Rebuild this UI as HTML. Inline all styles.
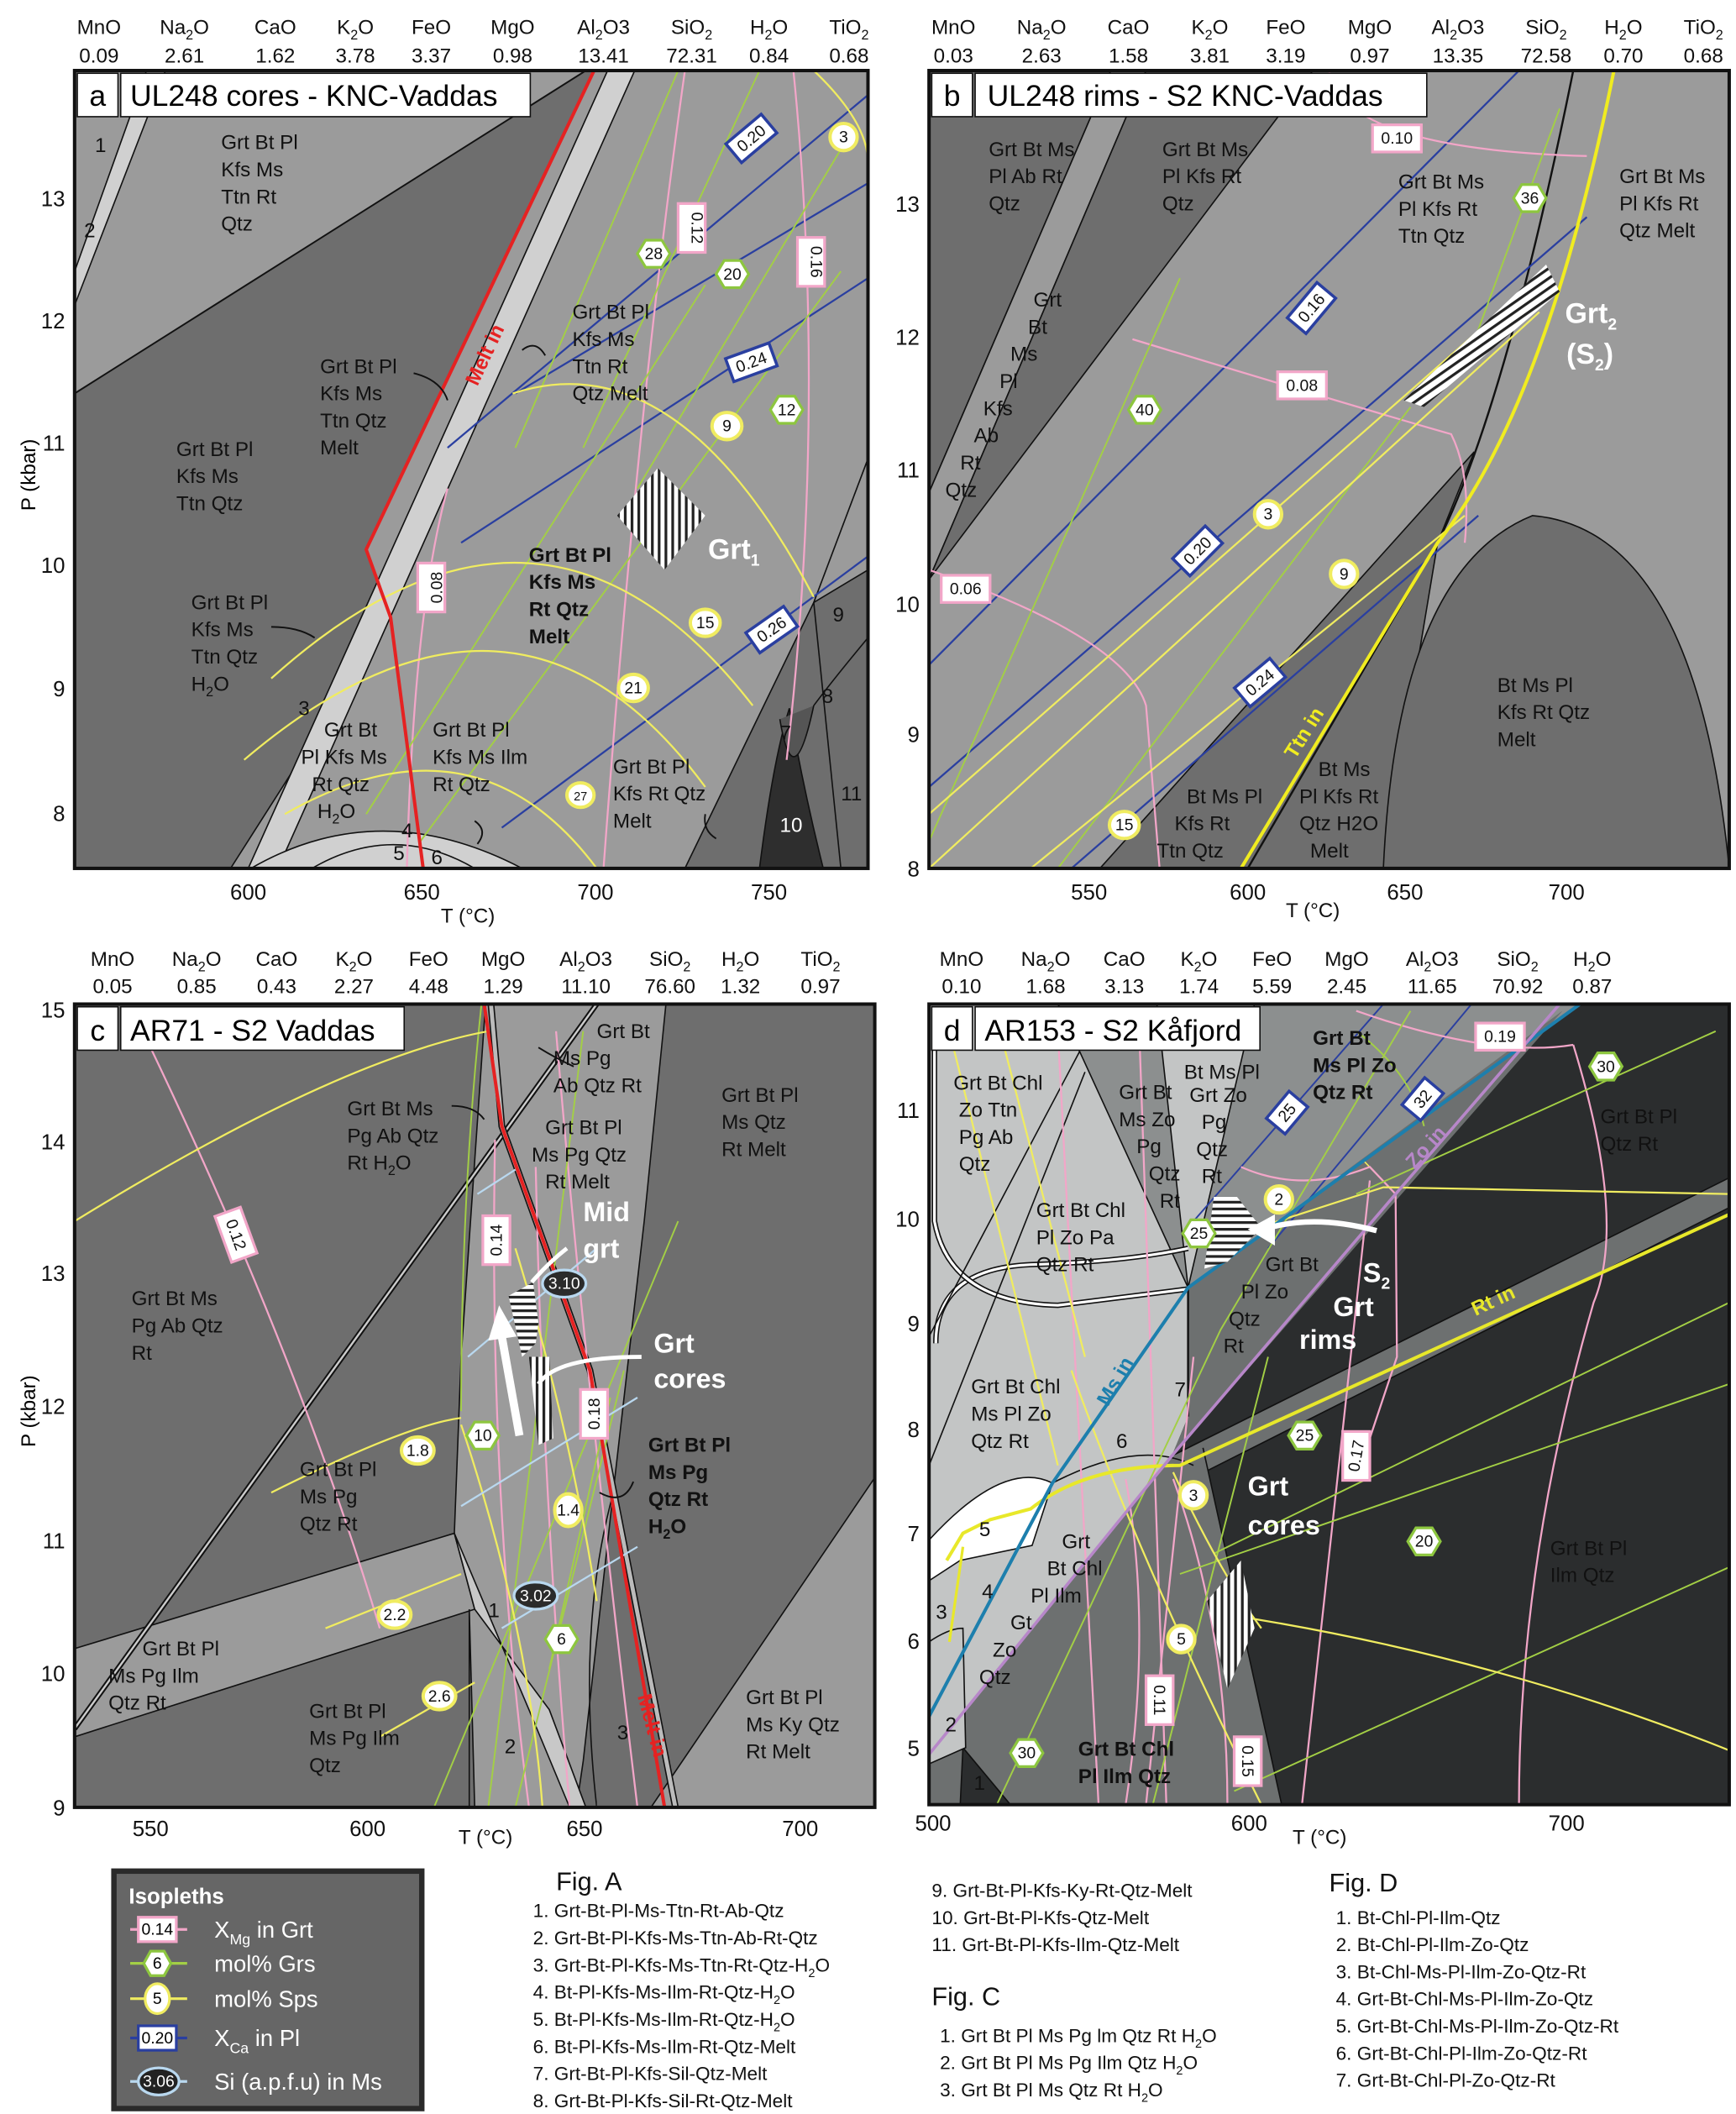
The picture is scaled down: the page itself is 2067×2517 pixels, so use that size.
<!DOCTYPE html>
<html><head><meta charset="utf-8"><style>
html,body{margin:0;padding:0;background:#fff}
svg{display:block}
text{font-family:"Liberation Sans",sans-serif}
</style></head><body>
<svg width="2067" height="2517" viewBox="0 0 1280 1558" preserveAspectRatio="none" xmlns="http://www.w3.org/2000/svg">
<defs>
<pattern id="hv" width="5" height="5" patternUnits="userSpaceOnUse"><rect width="5" height="5" fill="#fff"/><rect width="2" height="5" fill="#222"/></pattern>
<pattern id="hh" width="6" height="6" patternUnits="userSpaceOnUse" patternTransform="rotate(-35)"><rect width="6" height="6" fill="#fff"/><rect width="6" height="2" fill="#222"/></pattern>
<pattern id="hz" width="5" height="5" patternUnits="userSpaceOnUse"><rect width="5" height="5" fill="#fff"/><rect width="5" height="2" fill="#222"/></pattern>
<clipPath id="ca"><rect x="55" y="52" width="585" height="588"/></clipPath>
<clipPath id="cb"><rect x="685" y="52" width="590" height="588"/></clipPath>
<clipPath id="cc"><rect x="55" y="740" width="590" height="592"/></clipPath>
<clipPath id="cd"><rect x="685" y="740" width="590" height="590"/></clipPath>
</defs>
<rect width="1280" height="1558" fill="#fff"/>

<!-- ================= HEADERS ================= -->
<g font-size="15" fill="#111" text-anchor="middle">
<text x="73" y="25">MnO</text><text x="73" y="46">0.09</text>
<text x="136" y="25">Na<tspan font-size="10" dy="4">2</tspan><tspan dy="-4">O</tspan></text><text x="136" y="46">2.61</text>
<text x="203" y="25">CaO</text><text x="203" y="46">1.62</text>
<text x="262" y="25">K<tspan font-size="10" dy="4">2</tspan><tspan dy="-4">O</tspan></text><text x="262" y="46">3.78</text>
<text x="318" y="25">FeO</text><text x="318" y="46">3.37</text>
<text x="378" y="25">MgO</text><text x="378" y="46">0.98</text>
<text x="445" y="25">Al<tspan font-size="10" dy="4">2</tspan><tspan dy="-4">O3</tspan></text><text x="445" y="46">13.41</text>
<text x="510" y="25">SiO<tspan font-size="10" dy="4">2</tspan></text><text x="510" y="46">72.31</text>
<text x="567" y="25">H<tspan font-size="10" dy="4">2</tspan><tspan dy="-4">O</tspan></text><text x="567" y="46">0.84</text>
<text x="626" y="25">TiO<tspan font-size="10" dy="4">2</tspan></text><text x="626" y="46">0.68</text>

<text x="703" y="25">MnO</text><text x="703" y="46">0.03</text>
<text x="768" y="25">Na<tspan font-size="10" dy="4">2</tspan><tspan dy="-4">O</tspan></text><text x="768" y="46">2.63</text>
<text x="832" y="25">CaO</text><text x="832" y="46">1.58</text>
<text x="892" y="25">K<tspan font-size="10" dy="4">2</tspan><tspan dy="-4">O</tspan></text><text x="892" y="46">3.81</text>
<text x="948" y="25">FeO</text><text x="948" y="46">3.19</text>
<text x="1010" y="25">MgO</text><text x="1010" y="46">0.97</text>
<text x="1075" y="25">Al<tspan font-size="10" dy="4">2</tspan><tspan dy="-4">O3</tspan></text><text x="1075" y="46">13.35</text>
<text x="1140" y="25">SiO<tspan font-size="10" dy="4">2</tspan></text><text x="1140" y="46">72.58</text>
<text x="1197" y="25">H<tspan font-size="10" dy="4">2</tspan><tspan dy="-4">O</tspan></text><text x="1197" y="46">0.70</text>
<text x="1256" y="25">TiO<tspan font-size="10" dy="4">2</tspan></text><text x="1256" y="46">0.68</text>

<text x="83" y="712">MnO</text><text x="83" y="732">0.05</text>
<text x="145" y="712">Na<tspan font-size="10" dy="4">2</tspan><tspan dy="-4">O</tspan></text><text x="145" y="732">0.85</text>
<text x="204" y="712">CaO</text><text x="204" y="732">0.43</text>
<text x="261" y="712">K<tspan font-size="10" dy="4">2</tspan><tspan dy="-4">O</tspan></text><text x="261" y="732">2.27</text>
<text x="316" y="712">FeO</text><text x="316" y="732">4.48</text>
<text x="371" y="712">MgO</text><text x="371" y="732">1.29</text>
<text x="432" y="712">Al<tspan font-size="10" dy="4">2</tspan><tspan dy="-4">O3</tspan></text><text x="432" y="732">11.10</text>
<text x="494" y="712">SiO<tspan font-size="10" dy="4">2</tspan></text><text x="494" y="732">76.60</text>
<text x="546" y="712">H<tspan font-size="10" dy="4">2</tspan><tspan dy="-4">O</tspan></text><text x="546" y="732">1.32</text>
<text x="605" y="712">TiO<tspan font-size="10" dy="4">2</tspan></text><text x="605" y="732">0.97</text>

<text x="709" y="712">MnO</text><text x="709" y="732">0.10</text>
<text x="771" y="712">Na<tspan font-size="10" dy="4">2</tspan><tspan dy="-4">O</tspan></text><text x="771" y="732">1.68</text>
<text x="829" y="712">CaO</text><text x="829" y="732">3.13</text>
<text x="884" y="712">K<tspan font-size="10" dy="4">2</tspan><tspan dy="-4">O</tspan></text><text x="884" y="732">1.74</text>
<text x="938" y="712">FeO</text><text x="938" y="732">5.59</text>
<text x="993" y="712">MgO</text><text x="993" y="732">2.45</text>
<text x="1056" y="712">Al<tspan font-size="10" dy="4">2</tspan><tspan dy="-4">O3</tspan></text><text x="1056" y="732">11.65</text>
<text x="1119" y="712">SiO<tspan font-size="10" dy="4">2</tspan></text><text x="1119" y="732">70.92</text>
<text x="1174" y="712">H<tspan font-size="10" dy="4">2</tspan><tspan dy="-4">O</tspan></text><text x="1174" y="732">0.87</text>
</g>

<!-- ================= PANEL A ================= -->
<g clip-path="url(#ca)">
<rect x="55" y="52" width="585" height="588" fill="#9b9b9b"/>
<polygon points="55,290 432,52 438,52 270,405 288,455 170,640 55,640" fill="#6e6e6e"/>
<path d="M438,52 L270,405 L288,455 L170,640" fill="none" stroke="#111" stroke-width="1"/>
<polygon points="448,52 468,52 205,640 183,640" fill="#d0d0d0" stroke="#111" stroke-width="1"/>
<polygon points="55,200 108,52 122,52 55,225" fill="#d0d0d0" stroke="#111" stroke-width="1"/>
<path d="M55,290 L432,52" stroke="#111" stroke-width="1.2"/>
<path d="M185,640 Q280,585 385,640 Z" fill="#d0d0d0" stroke="#111"/>
<path d="M230,640 Q290,605 350,640" fill="none" stroke="#111"/>
<polygon points="505,640 600,444 640,420 640,640" fill="#6e6e6e" stroke="#111"/>
<path d="M560,640 Q570,560 582,522 Q592,580 607,640Z" fill="#2e2e2e" stroke="#111"/>
<path d="M575,530 Q585,590 600,520" fill="#555" stroke="#111"/>
<path d="M600,520 Q615,500 640,470" stroke="#111" fill="none"/>
<path d="M600,444 L640,338" stroke="#111" fill="none"/>
<path d="M600,444 L620,640" stroke="#111" fill="none"/>
<g stroke="#2a3fa0" stroke-width="1.4" fill="none">
<path d="M330,330 L640,70"/><path d="M380,290 L640,135"/><path d="M340,400 L640,205"/><path d="M370,610 L640,410"/><path d="M500,52 L640,52"/>
</g>
<g stroke="#f2a6c8" stroke-width="1.4" fill="none">
<path d="M505,52 Q470,300 445,640"/><path d="M585,52 Q610,300 580,560"/><path d="M330,360 Q305,450 300,640"/>
</g>
<g stroke="#a3cf45" stroke-width="1.2" fill="none">
<path d="M380,330 L500,52"/><path d="M430,330 L560,52"/><path d="M470,360 L620,110"/><path d="M270,600 L520,210"/><path d="M310,620 L620,200"/>
</g>
<g stroke="#f0ec60" stroke-width="1.4" fill="none">
<path d="M600,52 Q640,90 640,120"/><path d="M378,290 Q500,250 600,440"/><path d="M200,500 Q400,320 555,520"/><path d="M180,560 Q380,390 520,580"/><path d="M210,600 Q350,520 440,640"/>
</g>
<path d="M438,52 L270,405 L288,455 L312,640" stroke="#e52222" stroke-width="2.5" fill="none"/>
<polygon points="455,380 485,345 520,380 490,420" fill="url(#hv)"/>
</g>
<rect x="55" y="52" width="585" height="588" fill="none" stroke="#111" stroke-width="2.5"/>
<rect x="57" y="54" width="30" height="32" fill="#fff" stroke="#111"/><text x="72" y="78" font-size="22" text-anchor="middle">a</text>
<rect x="89" y="54" width="302" height="32" fill="#fff" stroke="#111"/><text x="96" y="78" font-size="22">UL248 cores - KNC-Vaddas</text>
<g font-size="15" fill="#111">
<text x="70" y="112">1</text><text x="62" y="175">2</text>
<text x="163" y="110">Grt Bt Pl</text><text x="163" y="130">Kfs Ms</text><text x="163" y="150">Ttn Rt</text><text x="163" y="170">Qtz</text>
<text x="130" y="336">Grt Bt Pl</text><text x="130" y="356">Kfs Ms</text><text x="130" y="376">Ttn Qtz</text>
<text x="236" y="275">Grt Bt Pl</text><text x="236" y="295">Kfs Ms</text><text x="236" y="315">Ttn Qtz</text><text x="236" y="335">Melt</text>
<text x="422" y="235">Grt Bt Pl</text><text x="422" y="255">Kfs Ms</text><text x="422" y="275">Ttn Rt</text><text x="422" y="295">Qtz Melt</text>
<text x="141" y="449">Grt Bt Pl</text><text x="141" y="469">Kfs Ms</text><text x="141" y="489">Ttn Qtz</text><text x="141" y="509">H<tspan font-size="10" dy="4">2</tspan><tspan dy="-4">O</tspan></text>
<text x="220" y="527">3</text>
<text x="239" y="543">Grt Bt</text><text x="222" y="563">Pl Kfs Ms</text><text x="230" y="583">Rt Qtz</text><text x="234" y="603">H<tspan font-size="10" dy="4">2</tspan><tspan dy="-4">O</tspan></text>
<text x="319" y="543">Grt Bt Pl</text><text x="319" y="563">Kfs Ms Ilm</text><text x="319" y="583">Rt Qtz</text>
<text x="452" y="570">Grt Bt Pl</text><text x="452" y="590">Kfs Rt Qtz</text><text x="452" y="610">Melt</text>
<text x="296" y="617">4</text><text x="290" y="634">5</text><text x="318" y="637">6</text>
<text x="614" y="458">9</text><text x="606" y="518">8</text><text x="575" y="545">7</text><text x="620" y="590">11</text><text x="575" y="613" fill="#fff">10</text>
</g>
<g stroke="#111" stroke-width="1.2" fill="none">
<path d="M200,462 Q220,462 232,470"/><path d="M305,275 Q325,280 330,295"/><path d="M402,262 Q395,250 385,258"/><path d="M520,600 Q518,612 528,618"/><path d="M350,605 Q360,612 352,622"/>
</g>
<g font-size="15" font-weight="bold" fill="#111">
<text x="390" y="414">Grt Bt Pl</text><text x="390" y="434">Kfs Ms</text><text x="390" y="454">Rt Qtz</text><text x="390" y="474">Melt</text>
</g>
<text x="522" y="412" font-size="21" font-weight="bold" fill="#fff">Grt<tspan font-size="12" dy="5">1</tspan></text>
<text x="352" y="285" font-size="15" font-weight="bold" fill="#e52222" transform="rotate(-65 352 285)">Melt in</text>

<!-- ================= PANEL B ================= -->
<g clip-path="url(#cb)">
<rect x="685" y="52" width="590" height="588" fill="#9b9b9b"/>
<polygon points="685,52 819,52 685,363" fill="#6e6e6e" stroke="#111"/>
<polygon points="819,52 845,52 685,427 685,363" fill="#9b9b9b" stroke="#111"/>
<polygon points="845,52 968,52 685,427" fill="#6e6e6e" stroke="#111"/>
<polygon points="811,640 1087,333 1060,400 1020,640" fill="#6e6e6e" stroke="#111"/>
<path d="M1020,640 Q1030,420 1130,380 Q1250,390 1275,640 Z" fill="#6e6e6e" stroke="#111"/>
<path d="M1160,52 Q1110,300 1060,400 L920,640" fill="none" stroke="#111" stroke-width="1.5"/>
<g stroke="#2a3fa0" stroke-width="1.4" fill="none"><path d="M685,490 L1120,52"/><path d="M685,580 L1170,160"/><path d="M790,640 L1090,380"/></g>
<g stroke="#f2a6c8" stroke-width="1.4" fill="none"><path d="M980,52 Q990,110 1170,115"/><path d="M835,250 Q1000,300 1070,320 Q1085,350 1080,400"/><path d="M685,420 Q830,470 845,520 Q850,580 855,640"/></g>
<g stroke="#a3cf45" stroke-width="1.2" fill="none"><path d="M685,620 L870,205"/><path d="M780,640 L1040,300"/><path d="M1080,270 L1150,80"/></g>
<g stroke="#f0ec60" stroke-width="1.4" fill="none"><path d="M685,600 L1140,200"/><path d="M685,640 L1135,230"/><path d="M760,640 L1080,380"/></g>
<path d="M1190,52 Q1140,300 1060,400 L915,640" fill="none" stroke="#f0ec20" stroke-width="2.5"/>
<polygon points="1035,295 1140,195 1150,215 1050,300" fill="url(#hh)"/>
</g>
<rect x="685" y="52" width="590" height="588" fill="none" stroke="#111" stroke-width="2.5"/>
<rect x="687" y="54" width="30" height="32" fill="#fff" stroke="#111"/><text x="702" y="78" font-size="22" text-anchor="middle">b</text>
<rect x="719" y="54" width="333" height="32" fill="#fff" stroke="#111"/><text x="728" y="78" font-size="22">UL248 rims - S2 KNC-Vaddas</text>
<g font-size="15" fill="#111">
<text x="729" y="115">Grt Bt Ms</text><text x="729" y="135">Pl Ab Rt</text><text x="729" y="155">Qtz</text>
<text x="857" y="115">Grt Bt Ms</text><text x="857" y="135">Pl Kfs Rt</text><text x="857" y="155">Qtz</text>
<text x="1031" y="139">Grt Bt Ms</text><text x="1031" y="159">Pl Kfs Rt</text><text x="1031" y="179">Ttn Qtz</text>
<text x="1194" y="135">Grt Bt Ms</text><text x="1194" y="155">Pl Kfs Rt</text><text x="1194" y="175">Qtz Melt</text>
<text x="762" y="226">Grt</text><text x="758" y="246">Bt</text><text x="745" y="266">Ms</text><text x="737" y="286">Pl</text><text x="725" y="306">Kfs</text><text x="718" y="326">Ab</text><text x="708" y="346">Rt</text><text x="697" y="366">Qtz</text>
<text x="1104" y="510">Bt Ms Pl</text><text x="1104" y="530">Kfs Rt Qtz</text><text x="1104" y="550">Melt</text>
<text x="875" y="592">Bt Ms Pl</text><text x="866" y="612">Kfs Rt</text><text x="853" y="632">Ttn Qtz</text>
<text x="972" y="572">Bt Ms</text><text x="958" y="592">Pl Kfs Rt</text><text x="958" y="612">Qtz H2O</text><text x="966" y="632">Melt</text>
</g>
<text x="1154" y="238" font-size="21" font-weight="bold" fill="#fff">Grt<tspan font-size="12" dy="5">2</tspan></text>
<text x="1155" y="268" font-size="21" font-weight="bold" fill="#fff">(S<tspan font-size="12" dy="5">2</tspan><tspan dy="-5">)</tspan></text>
<text x="955" y="560" font-size="15" font-weight="bold" fill="#f0ec20" transform="rotate(-58 955 560)">Ttn in</text>

<!-- ================= PANEL C ================= -->
<g clip-path="url(#cc)">
<rect x="55" y="740" width="590" height="592" fill="#6e6e6e"/>
<polygon points="358,740 491,740 475,900 452,1101 430,1298 425,1332 350,1332 346,1186 335,1130 340,1000" fill="#9b9b9b" stroke="#111"/>
<path d="M452,1101 Q425,1200 440,1332" fill="none" stroke="#111"/>
<polygon points="452,1101 440,1332 490,1332" fill="#6e6e6e"/>
<polygon points="480,1332 645,1089 645,1332" fill="#9b9b9b" stroke="#111"/>
<polygon points="55,1215 335,1130 350,1186 55,1280" fill="#9b9b9b" stroke="#111"/>
<polygon points="335,1130 350,1186 405,1260 432,1332 420,1332 390,1260" fill="#c8c8c8" stroke="#111"/>
<path d="M346,1186 L346,1332" stroke="#111" fill="none"/>
<path d="M55,1274 L440,740" stroke="#111" stroke-width="4" fill="none"/>
<path d="M55,1274 L440,740" stroke="#ccc" stroke-width="1.5" fill="none"/>
<path d="M362,740 L370,830 L435,1010 L498,1332" stroke="#111" stroke-width="5" fill="none"/>
<path d="M362,740 L370,830 L435,1010 L498,1332" stroke="#bbb" stroke-width="3" fill="none"/>
<g stroke="#f2a6c8" stroke-width="1.4" fill="none"><path d="M110,770 Q220,1000 280,1200"/><path d="M365,840 Q360,1100 390,1332"/><path d="M395,860 Q400,1100 420,1332"/><path d="M410,760 Q430,1000 470,1332"/></g>
<g stroke="#a3cf45" stroke-width="1.2" fill="none"><path d="M360,1332 L430,760"/><path d="M380,1332 L460,1010"/><path d="M405,1230 L450,1030"/><path d="M320,1332 L500,900"/><path d="M340,1040 Q340,880 355,740"/></g>
<g stroke="#f0ec60" stroke-width="1.4" fill="none"><path d="M55,900 Q250,780 360,760"/><path d="M200,1100 Q300,1050 340,1045"/><path d="M240,1200 L340,1160"/><path d="M280,1280 L350,1240"/><path d="M380,920 Q420,1050 440,1180"/><path d="M340,1050 Q390,1200 400,1332"/></g>
<g stroke="#b9d8ef" stroke-width="1.4" fill="none"><path d="M340,1110 L470,1030"/><path d="M370,1200 L470,1140"/><path d="M345,1000 L440,920"/><path d="M352,880 L380,862"/></g>
<path d="M357,740 L370,830 L435,1010 L490,1332" stroke="#e52222" stroke-width="2.5" fill="none"/>
<polygon points="375,955 393,945 397,975 395,990 385,1000" fill="url(#hz)"/>
<polygon points="390,1000 405,1000 408,1060 397,1065" fill="url(#hv)"/>
<path d="M383,1058 L370,985" stroke="#fff" stroke-width="6"/><polygon points="360,988 368,962 381,985" fill="#fff"/>
</g>
<rect x="55" y="740" width="590" height="592" fill="none" stroke="#111" stroke-width="2.5"/>
<rect x="57" y="742" width="30" height="32" fill="#fff" stroke="#111"/><text x="72" y="767" font-size="22" text-anchor="middle">c</text>
<rect x="89" y="742" width="209" height="32" fill="#fff" stroke="#111"/><text x="96" y="767" font-size="22">AR71 - S2 Vaddas</text>
<g font-size="15" fill="#111">
<text x="440" y="765">Grt Bt</text><text x="408" y="785">Ms Pg</text><text x="408" y="805">Ab Qtz Rt</text>
<text x="256" y="822">Grt Bt Ms</text><text x="256" y="842">Pg Ab Qtz</text><text x="256" y="862">Rt H<tspan font-size="10" dy="4">2</tspan><tspan dy="-4">O</tspan></text>
<text x="402" y="836">Grt Bt Pl</text><text x="392" y="856">Ms Pg Qtz</text><text x="402" y="876">Rt Melt</text>
<text x="532" y="812">Grt Bt Pl</text><text x="532" y="832">Ms Qtz</text><text x="532" y="852">Rt Melt</text>
<text x="97" y="962">Grt Bt Ms</text><text x="97" y="982">Pg Ab Qtz</text><text x="97" y="1002">Rt</text>
<text x="221" y="1088">Grt Bt Pl</text><text x="221" y="1108">Ms Pg</text><text x="221" y="1128">Qtz Rt</text>
<text x="105" y="1220">Grt Bt Pl</text><text x="80" y="1240">Ms Pg Ilm</text><text x="80" y="1260">Qtz Rt</text>
<text x="228" y="1266">Grt Bt Pl</text><text x="228" y="1286">Ms Pg Ilm</text><text x="228" y="1306">Qtz</text>
<text x="550" y="1256">Grt Bt Pl</text><text x="550" y="1276">Ms Ky Qtz</text><text x="550" y="1296">Rt Melt</text>
<text x="360" y="1192">1</text><text x="372" y="1292">2</text><text x="455" y="1282">3</text>
</g>
<g stroke="#111" stroke-width="1.2" fill="none"><path d="M333,815 Q350,815 357,825"/><path d="M423,786 Q410,780 397,772"/><path d="M467,1092 Q460,1110 442,1100"/></g>
<g font-size="15" font-weight="bold" fill="#111"><text x="478" y="1070">Grt Bt Pl</text><text x="478" y="1090">Ms Pg</text><text x="478" y="1110">Qtz Rt</text><text x="478" y="1130">H<tspan font-size="10" dy="4">2</tspan><tspan dy="-4">O</tspan></text></g>
<g font-size="20" font-weight="bold" fill="#fff"><text x="430" y="900">Mid</text><text x="430" y="927">grt</text><text x="482" y="997">Grt</text><text x="482" y="1023">cores</text></g>
<path d="M392,945 Q405,930 418,920" stroke="#fff" stroke-width="3" fill="none"/>
<path d="M397,1020 Q410,1000 473,1000" stroke="#fff" stroke-width="3" fill="none"/>
<text x="470" y="1250" font-size="15" font-weight="bold" fill="#e52222" transform="rotate(75 470 1250)">Melt in</text>

<!-- ================= PANEL D ================= -->
<g clip-path="url(#cd)">
<rect x="685" y="740" width="590" height="590" fill="#2b2d2e"/>
<polygon points="685,740 925,740 876,949 876,1044 864,1073 685,1292" fill="#c3c5c5"/>
<polygon points="780,740 853,740 876,949" fill="#8c8f8f" stroke="#111"/>
<polygon points="925,740 1165,740 876,949" fill="#8c8f8f" stroke="#111"/>
<polygon points="876,949 1152,745 864,1073 876,1044" fill="#6d7070"/>
<polygon points="1006,856 1152,745 1029,880 1015,885" fill="#6d7070"/>
<polygon points="864,1073 1275,868 1275,890 882,1088" fill="#6d7070" stroke="#111"/>
<polygon points="864,1073 887,1067 905,1150 945,1330 685,1330 685,1292" fill="#6d7070"/>
<path d="M887,1067 Q905,1150 945,1330" stroke="#111" fill="none"/>
<polygon points="710,1288 745,1330 708,1330" fill="#2b2d2e" stroke="#111"/>
<path d="M685,1210 Q700,1200 710,1200 L712,1288 L685,1300" fill="#c3c5c5" stroke="#111"/>
<path d="M685,1135 Q740,1075 776,1093 L761,1139 L708,1150 L685,1165 Z" fill="#fff" stroke="#111"/>
<path d="M690,990 Q690,935 760,932 Q830,930 876,920" stroke="#111" stroke-width="4" fill="none"/>
<path d="M690,990 Q690,935 760,932 Q830,930 876,920" stroke="#fff" stroke-width="2" fill="none"/>
<path d="M689,745 L689,900 Q700,960 780,962 L876,950" stroke="#111" stroke-width="4" fill="none"/>
<path d="M689,745 L689,900 Q700,960 780,962 L876,950" stroke="#fff" stroke-width="2" fill="none"/>
<path d="M685,985 L796,775 L780,740" stroke="#111" fill="none"/>
<path d="M685,1080 L800,790" stroke="#111" fill="none"/>
<path d="M876,949 L876,1044" stroke="#111" stroke-width="1.5" fill="none"/>
<path d="M1006,856 L1029,880" stroke="#f0ec60" fill="none"/>
<path d="M776,1093 Q840,1060 880,1080" stroke="#111" fill="none"/>
<g stroke="#2a3fa0" stroke-width="1.2" fill="none"><path d="M880,900 L1020,740"/><path d="M935,920 L1085,740"/></g>
<g stroke="#f2a6c8" stroke-width="1.4" fill="none"><path d="M1000,745 Q1100,780 1160,770"/><path d="M1160,770 Q1200,900 1175,960 Q1120,1150 1120,1330"/><path d="M1010,870 Q990,1050 960,1330"/><path d="M880,1000 L845,1330"/><path d="M865,1090 Q905,1200 905,1330"/><path d="M830,1090 Q850,1200 830,1330"/><path d="M840,760 L860,1330"/><path d="M780,760 L810,1330"/><path d="M915,860 Q960,880 1010,860 L1029,880 L1030,1000 L1010,1060"/></g>
<g stroke="#a3cf45" stroke-width="1.2" fill="none"><path d="M1000,880 L1265,760"/><path d="M735,1330 L900,980 L1040,745"/><path d="M870,1160 L1275,1020"/><path d="M895,1145 L1275,960"/><path d="M910,1320 L1275,1155"/><path d="M850,1330 L935,1000"/><path d="M1000,760 Q1040,790 1050,830"/></g>
<g stroke="#f0ec60" stroke-width="1.4" fill="none"><path d="M880,920 L1020,875 L1275,880"/><path d="M905,1190 Q1100,1220 1275,1290"/><path d="M700,760 L780,1080"/><path d="M740,770 L800,1000"/><path d="M790,1010 Q840,1150 930,1330"/><path d="M865,1085 Q900,1160 930,1200"/></g>
<path d="M698,1150 L710,1130 L730,1120 L760,1112 Q800,1080 870,1080 L1275,895" stroke="#e8e82a" stroke-width="2.5" fill="none"/>
<path d="M700,1210 L710,1140" stroke="#e8e82a" stroke-width="2" fill="none"/>
<path d="M685,1265 L776,1093 L876,949 L1165,740" stroke="#1d7fad" stroke-width="2.5" fill="none"/>
<path d="M685,1293 L864,1073 L1029,880 L1150,740" stroke="#b787c9" stroke-width="2.2" fill="none"/>
<polygon points="895,882 912,882 930,905 905,930 888,935" fill="url(#hz)"/>
<polygon points="890,1180 915,1150 925,1200 905,1245" fill="url(#hv)"/>
<path d="M1015,907 Q970,895 935,905" stroke="#fff" stroke-width="4" fill="none"/><polygon points="920,906 940,895 940,918" fill="#fff"/>
</g>
<rect x="685" y="740" width="590" height="590" fill="none" stroke="#111" stroke-width="2.5"/>
<rect x="687" y="742" width="30" height="32" fill="#fff" stroke="#111"/><text x="702" y="767" font-size="22" text-anchor="middle">d</text>
<rect x="719" y="742" width="210" height="32" fill="#fff" stroke="#111"/><text x="726" y="767" font-size="22">AR153 - S2 Kåfjord</text>
<g font-size="15" fill="#111">
<text x="703" y="803">Grt Bt Chl</text><text x="707" y="823">Zo Ttn</text><text x="707" y="843">Pg Ab</text><text x="707" y="863">Qtz</text>
<text x="825" y="810">Grt Bt</text><text x="825" y="830">Ms Zo</text><text x="838" y="850">Pg</text><text x="847" y="870">Qtz</text><text x="855" y="890">Rt</text>
<text x="873" y="795">Bt Ms Pl</text><text x="877" y="812">Grt Zo</text><text x="886" y="832">Pg</text><text x="882" y="852">Qtz</text><text x="886" y="872">Rt</text>
<text x="764" y="897">Grt Bt Chl</text><text x="764" y="917">Pl Zo Pa</text><text x="764" y="937">Qtz Rt</text>
<text x="933" y="937">Grt Bt</text><text x="915" y="957">Pl Zo</text><text x="906" y="977">Qtz</text><text x="902" y="997">Rt</text>
<text x="716" y="1027">Grt Bt Chl</text><text x="716" y="1047">Ms Pl Zo</text><text x="716" y="1067">Qtz Rt</text>
<text x="1180" y="828">Grt Bt Pl</text><text x="1180" y="848">Qtz Rt</text>
<text x="1143" y="1146">Grt Bt Pl</text><text x="1143" y="1166">Ilm Qtz</text>
<text x="783" y="1141">Grt</text><text x="772" y="1161">Bt Chl</text><text x="760" y="1181">Pl Ilm</text><text x="745" y="1201">Gt</text><text x="732" y="1221">Zo</text><text x="722" y="1241">Qtz</text>
<text x="722" y="1132">5</text><text x="724" y="1178">4</text><text x="690" y="1193">3</text><text x="697" y="1276">2</text><text x="718" y="1319">1</text><text x="823" y="1067">6</text><text x="866" y="1029">7</text>
</g>
<g font-size="15" font-weight="bold" fill="#111"><text x="968" y="770">Grt Bt</text><text x="968" y="790">Ms Pl Zo</text><text x="968" y="810">Qtz Rt</text>
<text x="795" y="1294">Grt Bt Chl</text><text x="795" y="1314">Pl Ilm Qtz</text></g>
<g font-size="20" font-weight="bold" fill="#fff"><text x="1005" y="945">S<tspan font-size="12" dy="5">2</tspan></text><text x="983" y="970">Grt</text><text x="958" y="994">rims</text>
<text x="920" y="1102">Grt</text><text x="920" y="1131">cores</text></g>
<text x="817" y="1037" font-size="15" font-weight="bold" fill="#1d7fad" transform="rotate(-60 817 1037)">Ms in</text>
<text x="1043" y="862" font-size="15" font-weight="bold" fill="#b787c9" transform="rotate(-48 1043 862)">Zo in</text>
<text x="1088" y="970" font-size="15" font-weight="bold" fill="#e8e82a" transform="rotate(-25 1088 970)">Rt in</text>

<!-- ================= LABEL MARKERS ================= -->
<g font-size="12" text-anchor="middle" fill="#111">
<g fill="#fff" stroke="#f2a6c8" stroke-width="2">
<rect x="500" y="150" width="20" height="36"/><rect x="588" y="175" width="20" height="36"/><rect x="308" y="415" width="20" height="36"/>
<rect x="1012" y="92" width="36" height="20"/><rect x="942" y="274" width="36" height="20"/><rect x="694" y="424" width="36" height="20"/>
<rect x="164" y="892" width="20" height="36" transform="rotate(-20 174 910)"/><rect x="356" y="896" width="20" height="36"/><rect x="428" y="1024" width="20" height="36"/>
<rect x="1088" y="754" width="36" height="20"/><rect x="990" y="1055" width="20" height="36"/><rect x="845" y="1235" width="20" height="36"/><rect x="910" y="1280" width="20" height="36"/>
</g>
<text transform="translate(514 168) rotate(90)" dy="4">0.12</text><text transform="translate(602 193) rotate(90)" dy="4">0.16</text><text transform="translate(322 433) rotate(-90)" dy="4">0.08</text>
<text x="1030" y="106">0.10</text><text x="960" y="288">0.08</text><text x="712" y="438">0.06</text>
<text transform="translate(174 910) rotate(70)" dy="4">0.12</text><text transform="translate(366 914) rotate(-90)" dy="4">0.14</text><text transform="translate(438 1042) rotate(-90)" dy="4">0.18</text>
<text x="1106" y="768">0.19</text><text transform="translate(1000 1073) rotate(-80)" dy="4">0.17</text><text transform="translate(855 1253) rotate(90)" dy="4">0.11</text><text transform="translate(920 1298) rotate(90)" dy="4">0.15</text>
<g fill="#fff" stroke="#2a3fa0" stroke-width="2.2">
<rect x="537" y="93" width="34" height="18" transform="rotate(-40 554 102)"/><rect x="537" y="258" width="34" height="18" transform="rotate(-20 554 267)"/><rect x="552" y="455" width="34" height="18" transform="rotate(-35 569 464)"/>
<rect x="950" y="218" width="34" height="18" transform="rotate(-50 967 227)"/><rect x="866" y="397" width="34" height="18" transform="rotate(-45 883 406)"/><rect x="912" y="494" width="34" height="18" transform="rotate(-40 929 503)"/>
<rect x="936" y="811" width="26" height="18" transform="rotate(-50 949 820)"/><rect x="1036" y="801" width="26" height="18" transform="rotate(-50 1049 810)"/>
</g>
<text transform="translate(554 102) rotate(-40)" dy="4">0.20</text><text transform="translate(554 267) rotate(-20)" dy="4">0.24</text><text transform="translate(569 464) rotate(-35)" dy="4">0.26</text>
<text transform="translate(967 227) rotate(-50)" dy="4">0.16</text><text transform="translate(883 406) rotate(-45)" dy="4">0.20</text><text transform="translate(929 503) rotate(-40)" dy="4">0.24</text>
<text transform="translate(949 820) rotate(-50)" dy="4">25</text><text transform="translate(1049 810) rotate(-50)" dy="4">32</text>
<g fill="#fff" stroke="#8dc63f" stroke-width="2">
<polygon points="470,187 476,177 488,177 494,187 488,197 476,197"/><polygon points="528,202 534,192 546,192 552,202 546,212 534,212"/><polygon points="568,302 574,292 586,292 592,302 586,312 574,312"/>
<polygon points="832,302 838,292 850,292 856,302 850,312 838,312"/><polygon points="1116,146 1122,136 1134,136 1140,146 1134,156 1122,156"/>
<polygon points="344,1058 350,1048 362,1048 368,1058 362,1068 350,1068"/><polygon points="402,1208 408,1198 420,1198 426,1208 420,1218 408,1218"/>
<polygon points="1172,786 1178,776 1190,776 1196,786 1190,796 1178,796"/><polygon points="872,909 878,899 890,899 896,909 890,919 878,919"/><polygon points="950,1058 956,1048 968,1048 974,1058 968,1068 956,1068"/><polygon points="1038,1136 1044,1126 1056,1126 1062,1136 1056,1146 1044,1146"/><polygon points="745,1292 751,1282 763,1282 769,1292 763,1302 751,1302"/>
</g>
<text x="482" y="191">28</text><text x="540" y="206">20</text><text x="580" y="306">12</text><text x="844" y="306">40</text><text x="1128" y="150">36</text><text x="356" y="1062">10</text><text x="414" y="1212">6</text>
<text x="1184" y="790">30</text><text x="884" y="913">25</text><text x="962" y="1062">25</text><text x="1050" y="1140">20</text><text x="757" y="1296">30</text>
<g fill="#fff" stroke="#f0ec60" stroke-width="2.5">
<ellipse cx="622" cy="101" rx="10" ry="10"/><ellipse cx="536" cy="314" rx="11" ry="10"/><ellipse cx="520" cy="459" rx="11" ry="10"/><ellipse cx="467" cy="507" rx="11" ry="10"/><ellipse cx="428" cy="586" rx="10" ry="9"/>
<ellipse cx="935" cy="379" rx="10" ry="10"/><ellipse cx="991" cy="423" rx="10" ry="10"/><ellipse cx="829" cy="608" rx="11" ry="10"/>
<ellipse cx="308" cy="1069" rx="12" ry="10"/><ellipse cx="419" cy="1113" rx="10" ry="12"/><ellipse cx="291" cy="1190" rx="12" ry="10"/><ellipse cx="324" cy="1250" rx="12" ry="10"/>
<ellipse cx="943" cy="884" rx="10" ry="10"/><ellipse cx="880" cy="1102" rx="10" ry="10"/><ellipse cx="871" cy="1208" rx="10" ry="10"/>
</g>
<text x="622" y="105">3</text><text x="536" y="318">9</text><text x="520" y="463">15</text><text x="467" y="511">21</text><text x="428" y="590" font-size="9">27</text>
<text x="935" y="383">3</text><text x="991" y="427">9</text><text x="829" y="612">15</text>
<text x="308" y="1073">1.8</text><text x="419" y="1117">1.4</text><text x="291" y="1194">2.2</text><text x="324" y="1254">2.6</text>
<text x="943" y="888">2</text><text x="880" y="1106">3</text><text x="871" y="1212">5</text>
<g fill="#2b2b2b" stroke="#b9d8ef" stroke-width="2"><ellipse cx="416" cy="946" rx="16" ry="10"/><ellipse cx="395" cy="1176" rx="16" ry="10"/></g>
<text x="416" y="950" fill="#fff">3.10</text><text x="395" y="1180" fill="#fff">3.02</text>
</g>

<!-- axes labels -->
<g font-size="16" fill="#111" text-anchor="middle">
<text x="183" y="663">600</text><text x="311" y="663">650</text><text x="439" y="663">700</text><text x="567" y="663">750</text><text x="345" y="680" font-size="15">T (°C)</text>
<text x="803" y="663">550</text><text x="920" y="663">600</text><text x="1036" y="663">650</text><text x="1155" y="663">700</text><text x="968" y="676" font-size="15">T (°C)</text>
<text x="111" y="1353">550</text><text x="271" y="1353">600</text><text x="431" y="1353">650</text><text x="590" y="1353">700</text><text x="358" y="1359" font-size="15">T (°C)</text>
<text x="688" y="1349">500</text><text x="921" y="1349">600</text><text x="1155" y="1349">700</text><text x="973" y="1359" font-size="15">T (°C)</text>
</g>
<g font-size="16" fill="#111" text-anchor="end">
<text x="48" y="152">13</text><text x="48" y="242">12</text><text x="48" y="332">11</text><text x="48" y="422">10</text><text x="48" y="513">9</text><text x="48" y="605">8</text>
<text x="678" y="156">13</text><text x="678" y="254">12</text><text x="678" y="352">11</text><text x="678" y="451">10</text><text x="678" y="547">9</text><text x="678" y="646">8</text>
<text x="48" y="750">15</text><text x="48" y="847">14</text><text x="48" y="944">13</text><text x="48" y="1042">12</text><text x="48" y="1141">11</text><text x="48" y="1239">10</text><text x="48" y="1338">9</text>
<text x="678" y="824">11</text><text x="678" y="904">10</text><text x="678" y="981">9</text><text x="678" y="1059">8</text><text x="678" y="1136">7</text><text x="678" y="1215">6</text><text x="678" y="1294">5</text>
</g>
<text transform="translate(26 350) rotate(-90)" font-size="15" text-anchor="middle">P (kbar)</text>
<text transform="translate(26 1040) rotate(-90)" font-size="15" text-anchor="middle">P (kbar)</text>

<!-- ================= LEGEND ================= -->
<rect x="84" y="1379" width="227" height="175" fill="#666" stroke="#2a2a2a" stroke-width="4"/>
<text x="95" y="1403" font-size="16" font-weight="bold" fill="#fff">Isopleths</text>
<g stroke-width="2">
<line x1="96" y1="1422" x2="138" y2="1422" stroke="#f2a6c8"/><rect x="102" y="1413" width="28" height="18" fill="#fff" stroke="#f2a6c8"/>
<line x1="96" y1="1447" x2="138" y2="1447" stroke="#a3cf45"/><polygon points="106,1447 111,1438 121,1438 126,1447 121,1456 111,1456" fill="#fff" stroke="#8dc63f"/>
<line x1="96" y1="1473" x2="138" y2="1473" stroke="#f0ec60"/><ellipse cx="116" cy="1473" rx="9" ry="11" fill="#fff" stroke="#f0ec60"/>
<line x1="96" y1="1502" x2="138" y2="1502" stroke="#2a3fa0"/><rect x="102" y="1493" width="28" height="18" fill="#fff" stroke="#2a3fa0"/>
<line x1="96" y1="1534" x2="138" y2="1534" stroke="#b9d8ef"/><ellipse cx="117" cy="1534" rx="15" ry="10" fill="#222" stroke="#b9d8ef"/>
</g>
<g font-size="12" text-anchor="middle"><text x="116" y="1426">0.14</text><text x="116" y="1451">6</text><text x="116" y="1477">5</text><text x="116" y="1506">0.20</text><text x="117" y="1538" fill="#fff">3.06</text></g>
<g font-size="17" fill="#fff">
<text x="158" y="1428">X<tspan font-size="11" dy="5">Mg</tspan><tspan dy="-5"> in Grt</tspan></text>
<text x="158" y="1453">mol% Grs</text><text x="158" y="1479">mol% Sps</text>
<text x="158" y="1508">X<tspan font-size="11" dy="5">Ca</tspan><tspan dy="-5"> in Pl</tspan></text>
<text x="158" y="1540">Si (a.p.f.u) in Ms</text>
</g>

<!-- ================= NOTES ================= -->
<g fill="#111">
<text x="410" y="1393" font-size="19">Fig. A</text>
<g font-size="14">
<text x="393" y="1413">1. Grt-Bt-Pl-Ms-Ttn-Rt-Ab-Qtz</text>
<text x="393" y="1433">2. Grt-Bt-Pl-Kfs-Ms-Ttn-Ab-Rt-Qtz</text>
<text x="393" y="1453">3. Grt-Bt-Pl-Kfs-Ms-Ttn-Rt-Qtz-H<tspan font-size="9" dy="4">2</tspan><tspan dy="-4">O</tspan></text>
<text x="393" y="1473">4. Bt-Pl-Kfs-Ms-Ilm-Rt-Qtz-H<tspan font-size="9" dy="4">2</tspan><tspan dy="-4">O</tspan></text>
<text x="393" y="1493">5. Bt-Pl-Kfs-Ms-Ilm-Rt-Qtz-H<tspan font-size="9" dy="4">2</tspan><tspan dy="-4">O</tspan></text>
<text x="393" y="1513">6. Bt-Pl-Kfs-Ms-Ilm-Rt-Qtz-Melt</text>
<text x="393" y="1533">7. Grt-Bt-Pl-Kfs-Sil-Qtz-Melt</text>
<text x="393" y="1553">8. Grt-Bt-Pl-Kfs-Sil-Rt-Qtz-Melt</text>
<text x="687" y="1398">9. Grt-Bt-Pl-Kfs-Ky-Rt-Qtz-Melt</text>
<text x="687" y="1418">10. Grt-Bt-Pl-Kfs-Qtz-Melt</text>
<text x="687" y="1438">11. Grt-Bt-Pl-Kfs-Ilm-Qtz-Melt</text>
<text x="693" y="1505">1. Grt Bt Pl Ms Pg lm Qtz Rt H<tspan font-size="9" dy="4">2</tspan><tspan dy="-4">O</tspan></text>
<text x="693" y="1525">2. Grt Bt Pl Ms Pg Ilm Qtz H<tspan font-size="9" dy="4">2</tspan><tspan dy="-4">O</tspan></text>
<text x="693" y="1545">3. Grt Bt Pl Ms Qtz Rt H<tspan font-size="9" dy="4">2</tspan><tspan dy="-4">O</tspan></text>
<text x="985" y="1418">1. Bt-Chl-Pl-Ilm-Qtz</text>
<text x="985" y="1438">2. Bt-Chl-Pl-Ilm-Zo-Qtz</text>
<text x="985" y="1458">3. Bt-Chl-Ms-Pl-Ilm-Zo-Qtz-Rt</text>
<text x="985" y="1478">4. Grt-Bt-Chl-Ms-Pl-Ilm-Zo-Qtz</text>
<text x="985" y="1498">5. Grt-Bt-Chl-Ms-Pl-Ilm-Zo-Qtz-Rt</text>
<text x="985" y="1518">6. Grt-Bt-Chl-Pl-Ilm-Zo-Qtz-Rt</text>
<text x="985" y="1538">7. Grt-Bt-Chl-Pl-Zo-Qtz-Rt</text>
</g>
<text x="687" y="1478" font-size="19">Fig. C</text>
<text x="980" y="1394" font-size="19">Fig. D</text>
</g>
</svg>
</body></html>
